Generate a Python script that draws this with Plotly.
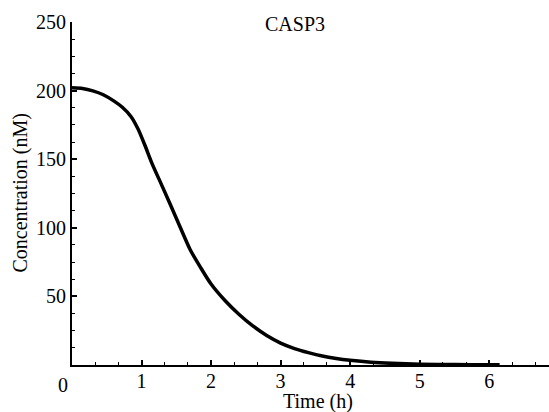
import plotly.graph_objects as go

# Data
time_h = [0, 0.15, 0.3, 0.45, 0.6, 0.72, 0.85, 0.95, 1.05, 1.15, 1.3, 1.5, 1.7, 1.85, 2.0,
          2.2, 2.4, 2.6, 2.8, 3.0, 3.2, 3.4, 3.6, 3.8, 4.0, 4.3, 4.6, 5.0, 5.5, 6.0, 6.15]
casp3_nM = [202, 201.5, 199.8, 197, 192.5, 188, 181, 172, 160, 147, 130, 107, 84, 71, 59,
            47, 37, 28.5, 21.5, 16, 12, 9, 6.5, 4.7, 3.4, 2.0, 1.2, 0.6, 0.3, 0.2, 0.2]

y_major_step = 50
y_minor_step = 12.5
x_major_step = 1
x_minor_step = 1 / 3

FONT = "Liberation Serif, Times New Roman, serif"

fig = go.Figure()
fig.add_trace(go.Scatter(
    x=time_h, y=casp3_nM, mode="lines",
    line=dict(color="black", width=3.5, shape="spline", smoothing=0.6),
    showlegend=False, hoverinfo="skip",
))

fig.update_layout(
    width=549, height=412,
    margin=dict(l=72, r=0, t=22, b=47),
    paper_bgcolor="white", plot_bgcolor="white",
    font=dict(family=FONT, size=20, color="black"),
    xaxis=dict(
        range=[0, 6.86], showgrid=False, zeroline=False, automargin=False,
        showline=True, linecolor="black", linewidth=2,
        tickmode="linear", tick0=0, dtick=x_major_step, labelalias={"0": ""},
        ticks="inside", ticklen=5, tickwidth=1.5, tickcolor="black",
        ticklabelstandoff=-3,
        minor=dict(tickmode="linear", dtick=x_minor_step, tick0=0, ticks="inside",
                   ticklen=3, tickwidth=1.2, tickcolor="black", showgrid=False),
        tickfont=dict(family=FONT, size=20),
    ),
    yaxis=dict(
        range=[0, 250], showgrid=False, zeroline=False, automargin=False,
        showline=True, linecolor="black", linewidth=2,
        tickmode="linear", tick0=0, dtick=y_major_step, labelalias={"0": ""},
        ticks="inside", ticklen=5, tickwidth=1.5, tickcolor="black",
        minor=dict(tickmode="linear", dtick=y_minor_step, tick0=0, ticks="inside",
                   ticklen=3, tickwidth=1.2, tickcolor="black", showgrid=False),
        tickfont=dict(family=FONT, size=20),
    ),
    annotations=[
        dict(text="CASP3", xref="paper", yref="paper", x=0.4675, y=0.994,
             xanchor="center", yanchor="middle", showarrow=False,
             font=dict(family=FONT, size=20)),
        dict(text="0", xref="x", yref="paper", x=0, y=0, xshift=-9, yshift=-7,
             xanchor="center", yanchor="top", showarrow=False,
             font=dict(family=FONT, size=20)),
        dict(text="Time (h)", xref="paper", yref="paper", x=(318 - 72) / 477, y=0,
             yshift=-36, xanchor="center", yanchor="middle", showarrow=False,
             font=dict(family=FONT, size=20)),
        dict(text="Concentration (nM)", xref="paper", yref="paper",
             x=(20 - 72) / 477, y=0.5, textangle=-90,
             xanchor="center", yanchor="middle", showarrow=False,
             font=dict(family=FONT, size=20)),
    ],
)

fig.write_html("out.html", config={"displayModeBar": False},
               post_script="document.body.style.margin='0';")
